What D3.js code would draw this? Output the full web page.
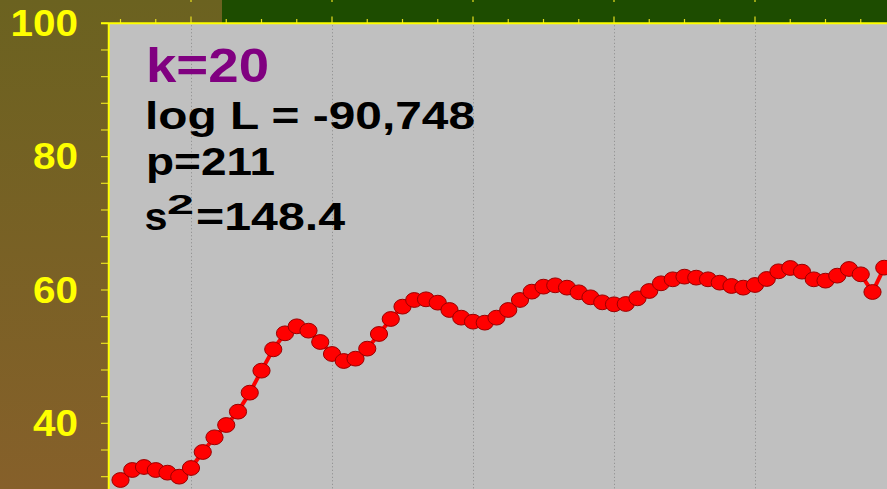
<!DOCTYPE html>
<html>
<head>
<meta charset="utf-8">
<script src="https://cdn.jsdelivr.net/npm/d3@7"></script>
<style>
  html, body { margin: 0; padding: 0; background: #6c6220; overflow: hidden; }
  svg { display: block; }
</style>
</head>
<body>
<svg id="chart" width="887" height="489"></svg>
<script>
// ---- data ----
const values = [31.5, 33.0, 33.45, 33.0, 32.6, 32.0, 33.3, 35.7, 37.9, 39.75,
  41.75, 44.6, 47.9, 51.1, 53.5, 54.55, 53.9, 52.2, 50.4, 49.35,
  49.7, 51.2, 53.4, 55.65, 57.5, 58.5, 58.6, 58.1, 57.0, 55.85,
  55.25, 55.1, 55.85, 57.0, 58.5, 59.75, 60.5, 60.7, 60.35, 59.65,
  58.9, 58.15, 57.85, 57.9, 58.75, 59.85, 61.0, 61.6, 62.0, 61.85,
  61.6, 61.1, 60.6, 60.35, 60.75, 61.65, 62.8, 63.3, 62.75, 61.6,
  61.4, 62.15, 63.15, 62.35, 59.7, 63.35];
const yTickLabels = [40, 60, 80, 100];
const yMinorTicks = [32, 36, 40, 44, 48, 52, 56, 60, 64, 68, 72, 76, 80, 84, 88, 92, 96, 100];
const xMajorTicks = [7, 19, 31, 43, 55, 67];
const xMinorTicks = [1, 4, 7, 10, 13, 16, 19, 22, 25, 28, 31, 34, 37, 40, 43, 46, 49, 52, 55, 58, 61, 64, 67];
const titleText = "k=20";
const statLines = ["log L = -90,748", "p=211"];
const s2Value = "=148.4";

// ---- layout ----
const W = 887, H = 489;
const svg = d3.select("#chart");
const x = d3.scaleLinear().domain([0, 68]).range([108.75, 108.75 + 68 * 11.75]);
const y = d3.scaleLinear().domain([30, 100]).range([490, 23.3]);
const font = "'Liberation Sans', Arial, Helvetica, sans-serif";

// background gradient
const defs = svg.append("defs");
const grad = defs.append("linearGradient").attr("id", "bg").attr("x1", 0).attr("y1", 0).attr("x2", 0).attr("y2", 1);
grad.append("stop").attr("offset", "0%").attr("stop-color", "#6b6220");
grad.append("stop").attr("offset", "100%").attr("stop-color", "#86602a");
svg.append("rect").attr("x", 0).attr("y", 0).attr("width", W).attr("height", H).attr("fill", "url(#bg)");

// green top band
svg.append("rect").attr("x", 222).attr("y", 0).attr("width", W - 222).attr("height", 23).attr("fill", "#1d4c00");

// plot area
const plotLeft = x(0), plotTop = y(100);
svg.append("rect").attr("x", plotLeft).attr("y", plotTop).attr("width", W - plotLeft).attr("height", H - plotTop).attr("fill", "#c0c0c0");

// vertical dotted grid lines
svg.append("g").selectAll("line").data(xMajorTicks).join("line")
  .attr("x1", d => Math.round(x(d)) + 0.5).attr("x2", d => Math.round(x(d)) + 0.5)
  .attr("y1", plotTop + 2).attr("y2", H)
  .attr("stroke", "#8a8a8a").attr("stroke-width", 1).attr("stroke-dasharray", "1,2.5");

// left axis ticks (outward)
svg.append("g").selectAll("line").data(yMinorTicks).join("line")
  .attr("x1", 101).attr("x2", plotLeft)
  .attr("y1", d => y(d)).attr("y2", d => y(d))
  .attr("stroke", "#e8e020").attr("stroke-width", 1.2);

// top axis ticks (outward)
svg.append("g").selectAll("line").data(xMinorTicks).join("line")
  .attr("x1", d => x(d)).attr("x2", d => x(d))
  .attr("y1", d => xMajorTicks.includes(d) ? 16.5 : 19).attr("y2", plotTop)
  .attr("stroke", "#e8e020").attr("stroke-width", 1.2);
svg.append("g").selectAll("line").data(xMajorTicks).join("line")
  .attr("x1", d => x(d)).attr("x2", d => x(d))
  .attr("y1", 0).attr("y2", 2)
  .attr("stroke", "#e8e020").attr("stroke-width", 1.2);

// axis lines
svg.append("line").attr("x1", 101).attr("x2", W).attr("y1", plotTop).attr("y2", plotTop)
  .attr("stroke", "#ffff00").attr("stroke-width", 2);
svg.append("line").attr("x1", plotLeft).attr("x2", plotLeft).attr("y1", plotTop).attr("y2", H)
  .attr("stroke", "#ffff00").attr("stroke-width", 2);

// y tick labels
svg.append("g").selectAll("text").data(yTickLabels).join("text")
  .attr("x", d => 78 - String(d).length * 22.5)
  .attr("y", d => y(d) + 12.8)
  .attr("textLength", d => String(d).length * 22.5)
  .attr("lengthAdjust", "spacingAndGlyphs")
  .attr("font-family", font).attr("font-weight", "bold").attr("font-size", 36)
  .attr("fill", "#ffff00")
  .text(d => d);

// series line
const line = d3.line().x((d, i) => x(i + 1)).y(d => y(d));
svg.append("path").datum(values).attr("d", line)
  .attr("fill", "none").attr("stroke", "#ff0000").attr("stroke-width", 4);

// markers
svg.append("g").selectAll("ellipse").data(values).join("ellipse")
  .attr("cx", (d, i) => x(i + 1)).attr("cy", d => y(d))
  .attr("rx", 8.6).attr("ry", 7.4)
  .attr("fill", "#ff0000").attr("stroke", "#9a0000").attr("stroke-width", 1);

// annotations
const txt = svg.append("g").attr("font-family", font).attr("font-weight", "bold");
txt.append("text").attr("x", 146).attr("y", 81.5).attr("font-size", 49)
  .attr("textLength", 123).attr("lengthAdjust", "spacingAndGlyphs")
  .attr("fill", "#800080").text(titleText);
txt.append("text").attr("x", 145).attr("y", 129).attr("font-size", 39.5)
  .attr("textLength", 330).attr("lengthAdjust", "spacingAndGlyphs")
  .attr("fill", "#000").text(statLines[0]);
txt.append("text").attr("x", 146).attr("y", 174.5).attr("font-size", 38)
  .attr("textLength", 129).attr("lengthAdjust", "spacingAndGlyphs")
  .attr("fill", "#000").text(statLines[1]);
txt.append("text").attr("x", 144.5).attr("y", 230).attr("font-size", 39.5)
  .attr("textLength", 23).attr("lengthAdjust", "spacingAndGlyphs")
  .attr("fill", "#000").text("s");
txt.append("text").attr("x", 167).attr("y", 214).attr("font-size", 27)
  .attr("textLength", 27).attr("lengthAdjust", "spacingAndGlyphs")
  .attr("fill", "#000").text("2");
txt.append("text").attr("x", 196).attr("y", 230).attr("font-size", 39.5)
  .attr("textLength", 149).attr("lengthAdjust", "spacingAndGlyphs")
  .attr("fill", "#000").text(s2Value);
</script>
</body>
</html>
